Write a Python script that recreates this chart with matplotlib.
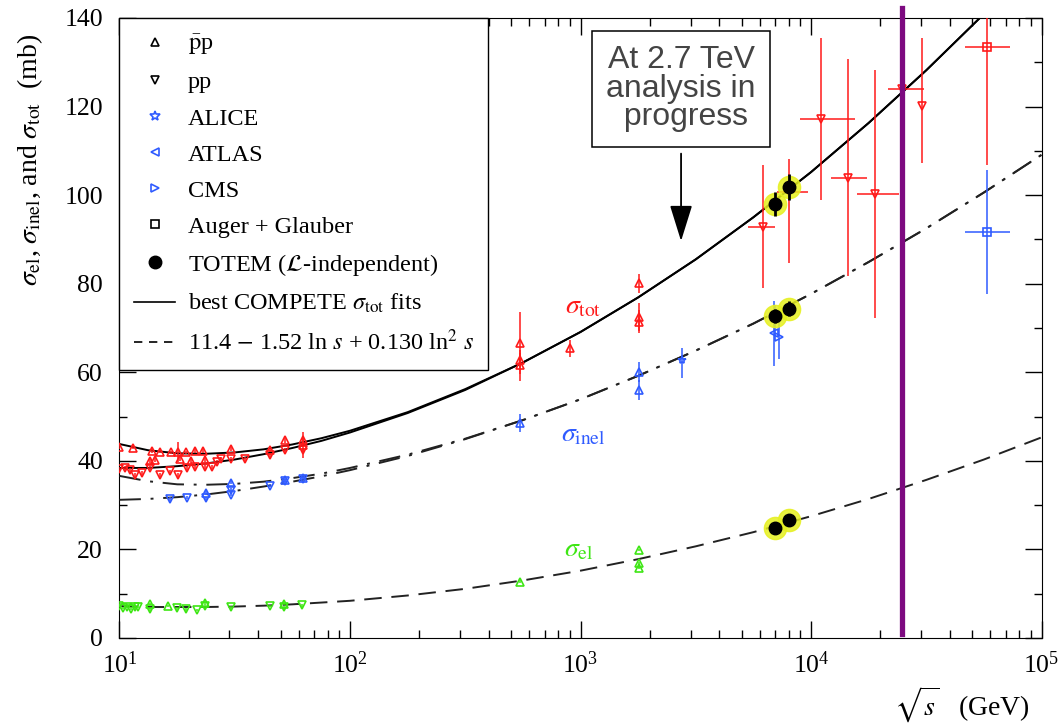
import matplotlib
matplotlib.use('Agg')
import matplotlib.pyplot as plt
from matplotlib.lines import Line2D
from matplotlib.ticker import MultipleLocator
import numpy as np

plt.rcParams['font.family'] = ['Liberation Serif', 'DejaVu Serif']
plt.rcParams['mathtext.fontset'] = 'stix'

RED = '#ff1a1a'
BLUE = '#2f5bff'
GREEN = '#3ee614'
PURPLE = '#7d0a80'

# fit curves (sqrt(s) in GeV, sigma in mb)
fit_rs = [10, 13.3, 17.8, 23.7, 31.6, 42.2, 56.2, 75.0, 100, 178, 316, 562,
          1000, 1778, 3162, 5623, 10000, 17783, 31623, 56234, 100000]
tot_pp_fit = [38.4, 38.4, 38.8, 39.4, 40.3, 41.5, 42.9, 44.5, 46.4, 50.8, 56.0, 62.2,
              69.1, 76.9, 85.5, 95.0, 105.2, 116.3, 128.2, 140.9, 154.4]
tot_ppbar_fit = [43.8, 42.4, 41.7, 41.6, 41.9, 42.6, 43.7, 45.1, 46.8, 51.0, 56.2, 62.2,
                 69.1, 76.9, 85.5, 95.0, 105.2, 116.3, 128.2, 140.9, 154.4]
inel_pp_fit = [31.2, 31.4, 31.8, 32.4, 33.2, 34.2, 35.3, 36.5, 37.9, 41.1, 44.9, 49.2,
               53.9, 59.2, 64.9, 71.0, 77.7, 84.9, 92.5, 100.6, 109.1]
inel_ppbar_fit = [36.6, 35.4, 34.7, 34.6, 34.8, 35.3, 36.1, 37.1, 38.4, 41.4, 45.0, 49.2,
                  53.9, 59.2, 64.9, 71.0, 77.7, 84.9, 92.5, 100.6, 109.1]
el_fit = [7.2, 7.0, 7.0, 7.0, 7.1, 7.3, 7.6, 8.0, 8.4, 9.6, 11.1, 13.0,
          15.2, 17.8, 20.7, 23.9, 27.5, 31.4, 35.7, 40.3, 45.3]

# sigma_tot, pbar-p
tot_ppbar_rs = [10.0, 11.5, 13.8, 15.0, 16.8, 18.0, 19.5, 21.3, 23.1, 13.6, 14.2, 18.3, 20.5,
                23.4, 30.4, 45.0, 52.5, 62.7, 62.7, 546, 546, 546, 900, 1800, 1800, 1800]
tot_ppbar = [43.1, 43.0, 42.2, 42.1, 41.9, 42.0, 41.9, 42.2, 42.2, 40.0, 40.2, 40.4, 40.0,
             40.2, 42.7, 42.4, 44.7, 44.7, 43.6, 66.5, 62.8, 61.6, 65.4, 80.1, 72.5, 71.4]
tot_ppbar_err = [0.4, 0.4, 0.4, 0.4, 0.4, 2.3, 0.4, 0.4, 0.4, 0.5, 0.5, 0.5, 0.5,
                 0.5, 0.5, 0.5, 0.6, 0.6, 3.0, 7.0, 1.5, 3.5, 1.9, 2.2, 3.1, 2.6]

# sigma_tot, pp (accelerator)
tot_pp_rs = [10.0, 10.6, 11.1, 11.7, 12.5, 13.6, 15.0, 16.5, 17.9, 19.6, 21.3, 23.4, 25.2,
             26.4, 27.6, 30.4, 35.2, 45.0, 52.5, 62.7]
tot_pp = [38.2, 38.4, 37.9, 36.8, 37.2, 38.4, 36.8, 37.6, 36.8, 38.4, 38.6, 38.6, 38.6,
          39.7, 40.5, 40.5, 40.4, 41.3, 42.4, 42.4]

# sigma_tot, pp (cosmic rays)
cr_rs = [6200, 8000, 11000, 14500, 19000, 24800, 30300]
cr_tot = [92.8, 100.7, 117.2, 103.8, 100.2, 123.9, 120.1]
cr_err_lo = [13.8, 16.0, 18.3, 22.0, 28.0, 1.0, 12.9]
cr_err_hi = [14.0, 7.5, 18.2, 27.0, 28.0, 1.0, 15.3]
cr_rs_lo = [5330, 7100, 9000, 12200, 15900, 21500, 30300]
cr_rs_hi = [7000, 9700, 15500, 17500, 24000, 31000, 30300]

# sigma_inel, pbar-p and pp
inel_ppbar_rs = [23.7, 30.4, 52.2, 62.4, 546, 1800, 1800]
inel_ppbar = [32.7, 35.1, 35.7, 36.2, 48.5, 60.1, 56.0]
inel_ppbar_err = [0.4, 0.4, 0.4, 0.4, 2.0, 2.3, 2.2]
inel_pp_rs = [16.5, 19.7, 23.7, 30.4, 30.4, 45.0, 52.2, 62.4]
inel_pp = [31.4, 31.7, 31.5, 33.4, 32.4, 34.4, 35.5, 36.0]

# LHC inelastic
alice_rs = [2760, 7000]
alice_inel = [62.8, 73.2]
alice_lo = [4.1, 4.6]
alice_hi = [2.7, 2.0]
atlas_rs = [6900]
atlas_inel = [68.8]
atlas_err = [7.3]
cms_rs = [7250]
cms_inel = [68.0]
cms_err = [5.0]

# Auger + Glauber
auger_rs = [57900]
auger_rs_lo = [46600]
auger_rs_hi = [72900]
auger_tot = [133.4]
auger_tot_lo = [26.6]
auger_tot_hi = [29.0]
auger_inel = [91.6]
auger_inel_err = [14.0]

# sigma_el
el_ppbar_rs = [13.6, 16.3, 23.5, 51.8, 546, 1800, 1800, 1800]
el_ppbar = [7.7, 7.2, 7.8, 7.7, 12.7, 19.9, 16.9, 15.9]
el_pp_rs = [10.0, 10.4, 10.8, 11.2, 11.7, 12.0, 13.6, 17.7, 19.5, 21.6, 23.5, 30.6, 45.0, 51.8, 61.8]
el_pp = [7.2, 6.8, 7.0, 6.6, 6.9, 7.1, 6.5, 6.7, 6.5, 6.3, 7.2, 6.9, 7.2, 6.9, 7.4]

# TOTEM
totem_rs = [7000, 8000]
totem_tot = [98.0, 101.8]
totem_tot_err = [2.8, 2.9]
totem_inel = [72.7, 74.3]
totem_inel_err = [1.5, 1.7]
totem_el = [24.8, 26.6]
totem_el_err = [1.2, 1.4]

lhc_run = 24800  # purple marker line

fig = plt.figure(figsize=(10.64, 7.25), dpi=100)
ax = fig.add_axes([0.1123, 0.12, 0.8666, 0.8552])

# fits
ax.plot(fit_rs, tot_pp_fit, color='black', lw=1.4, zorder=3)
ax.plot(fit_rs, tot_ppbar_fit, color='black', lw=1.4, zorder=3)
ax.plot(fit_rs, inel_pp_fit, color='#222222', lw=1.4, dashes=(11, 5, 1.5, 5), zorder=3)
ax.plot(fit_rs, inel_ppbar_fit, color='#222222', lw=1.4, dashes=(11, 5, 1.5, 5), zorder=3)
ax.plot(fit_rs, el_fit, color='#222222', lw=1.4, dashes=(9, 5), zorder=3)

mk = dict(ms=6, mfc='none', mew=1.2, elinewidth=1.1, capsize=0, ls='none', zorder=4)

ax.errorbar(tot_ppbar_rs, tot_ppbar, yerr=tot_ppbar_err, fmt='^', color=RED, **mk)
ax.errorbar(tot_pp_rs, tot_pp, yerr=0.4, fmt='v', color=RED, **mk)
ax.errorbar(cr_rs, cr_tot, yerr=[cr_err_lo, cr_err_hi],
            xerr=[np.array(cr_rs) - np.array(cr_rs_lo), np.array(cr_rs_hi) - np.array(cr_rs)],
            fmt='v', color=RED, **mk)
ax.errorbar(auger_rs, auger_tot, yerr=[auger_tot_lo, auger_tot_hi],
            xerr=[np.array(auger_rs) - np.array(auger_rs_lo), np.array(auger_rs_hi) - np.array(auger_rs)],
            fmt='s', color=RED, **mk)

ax.errorbar(inel_ppbar_rs, inel_ppbar, yerr=inel_ppbar_err, fmt='^', color=BLUE, **mk)
ax.errorbar(inel_pp_rs, inel_pp, yerr=0.4, fmt='v', color=BLUE, **mk)
ax.errorbar(alice_rs, alice_inel, yerr=[alice_lo, alice_hi], fmt='*', color=BLUE, **mk)
ax.errorbar(atlas_rs, atlas_inel, yerr=atlas_err, fmt='<', color=BLUE, **mk)
ax.errorbar(cms_rs, cms_inel, yerr=cms_err, fmt='>', color=BLUE, **mk)
ax.errorbar(auger_rs, auger_inel, yerr=auger_inel_err,
            xerr=[np.array(auger_rs) - np.array(auger_rs_lo), np.array(auger_rs_hi) - np.array(auger_rs)],
            fmt='s', color=BLUE, **mk)

ax.errorbar(el_ppbar_rs, el_ppbar, yerr=0.3, fmt='^', color=GREEN, **mk)
ax.errorbar(el_pp_rs, el_pp, yerr=0.3, fmt='v', color=GREEN, **mk)

# TOTEM with yellow halo
for vals, errs in [(totem_tot, totem_tot_err), (totem_inel, totem_inel_err), (totem_el, totem_el_err)]:
    ax.plot(totem_rs, vals, 'o', ms=16, color='#e6f020', alpha=0.85, zorder=5)
    ax.errorbar(totem_rs, vals, yerr=errs, fmt='o', ms=9, color='black',
                elinewidth=2, capsize=0, zorder=6)

ax.axvline(lhc_run, ymin=0.006, ymax=1.016, color=PURPLE, lw=3.8, clip_on=False, zorder=7)

ax.text(1030, 74.7, r'$\sigma_{\rm tot}$', color=RED, fontsize=20, ha='center', va='center')
ax.text(1030, 45.8, r'$\sigma_{\rm inel}$', color=BLUE, fontsize=20, ha='center', va='center')
ax.text(980, 19.9, r'$\sigma_{\rm el}$', color=GREEN, fontsize=20, ha='center', va='center')

ax.text(2730, 124.0, 'At 2.7 TeV\nanalysis in\n progress', family='Liberation Sans',
        fontsize=23, color='#444444', ha='center', va='center', linespacing=0.93,
        bbox=dict(boxstyle='square,pad=0.45', fc='white', ec='black', lw=1.1), zorder=8)
ax.annotate('', xy=(2730, 89.0), xytext=(2730, 110.0),
            arrowprops=dict(arrowstyle='-|>,head_length=0.9,head_width=0.28',
                            color='black', lw=1.3, mutation_scale=25))

ax.set_xscale('log')
ax.set_xlim(10, 1e5)
ax.set_ylim(0, 140)
ax.yaxis.set_major_locator(MultipleLocator(20))
ax.yaxis.set_minor_locator(MultipleLocator(10))
ax.tick_params(which='both', direction='in', top=True, right=True, labelsize=18.5)
ax.tick_params(which='major', length=12, width=1)
ax.tick_params(which='minor', length=6, width=1)
ax.tick_params(axis='x', pad=10)
ax.tick_params(axis='y', pad=12)

handles = [
    Line2D([], [], marker='^', ls='none', mfc='none', mec='black', ms=6, mew=1.2),
    Line2D([], [], marker='v', ls='none', mfc='none', mec='black', ms=6, mew=1.2),
    Line2D([], [], marker='*', ls='none', mfc='none', mec=BLUE, ms=7, mew=1.2),
    Line2D([], [], marker='<', ls='none', mfc='none', mec=BLUE, ms=6, mew=1.2),
    Line2D([], [], marker='>', ls='none', mfc='none', mec=BLUE, ms=6, mew=1.2),
    Line2D([], [], marker='s', ls='none', mfc='none', mec='black', ms=6, mew=1.2),
    Line2D([], [], marker='o', ls='none', color='black', ms=9),
    Line2D([], [], color='black', lw=1.2),
    Line2D([], [], color='black', lw=1.2, dashes=(5, 4)),
]
labels = [r'$\bar{\rm p}$p', 'pp', 'ALICE', 'ATLAS', 'CMS', 'Auger + Glauber',
          r'TOTEM ($\mathcal{L}$-independent)', r'best COMPETE $\sigma_{\rm tot}$ fits',
          r'11.4 $-$ 1.52 ln $s$ + 0.130 ln$^2$ $s$']
leg = ax.legend(handles, labels, loc='upper left', bbox_to_anchor=(0, 1), borderaxespad=0,
                fontsize=17.5, frameon=True, fancybox=False, framealpha=1, edgecolor='black',
                labelspacing=0.58, handlelength=1.7, handletextpad=0.5, borderpad=0.6)
leg.get_frame().set_linewidth(1.0)
leg.set_zorder(10)

fig.text(0.028, 0.78, r'$\sigma_{\rm el}$, $\sigma_{\rm inel}$, and $\sigma_{\rm tot}$  (mb)',
         rotation=90, ha='center', va='center', fontsize=20)
fig.text(0.968, 0.028, r'$\sqrt{s}$   (GeV)', ha='right', va='center', fontsize=20)

fig.savefig('out.png', dpi=100)
